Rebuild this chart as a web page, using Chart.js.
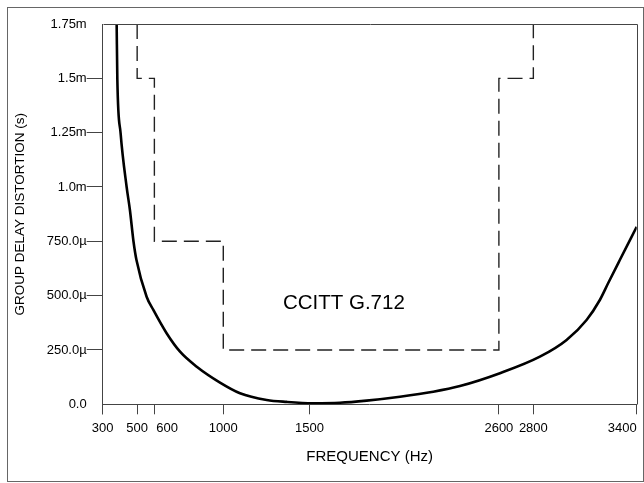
<!DOCTYPE html>
<html>
<head>
<meta charset="utf-8">
<script src="https://cdn.jsdelivr.net/npm/chart.js@4/dist/chart.umd.min.js"></script>
<style>
  html, body { margin: 0; padding: 0; background: #fff; }
  #wrap { position: relative; width: 644px; height: 483px; overflow: hidden; }
  #frame { position: absolute; left: 7px; top: 7px; width: 635px; height: 473px; border: 1px solid #666; }
  #chart { position: absolute; left: 0; top: 0; }
</style>
</head>
<body>
<div id="wrap">
  <div id="frame"></div>
  <canvas id="chart" width="644" height="483"></canvas>
</div>
<script>
// measured group delay curve (frequency in Hz, delay in ms)
const curveFreq = [381, 385, 404, 439, 458, 479, 496, 555, 594, 671, 749, 846, 981, 1097, 1252, 1368, 1520, 1677, 1832, 2026, 2219, 2374, 2606, 2838, 2993, 3109, 3186, 3234, 3302, 3400];
const curveDelay = [1.75, 1.494, 1.247, 1.0, 0.894, 0.748, 0.664, 0.495, 0.434, 0.327, 0.242, 0.173, 0.10, 0.051, 0.020, 0.011, 0.005, 0.007, 0.017, 0.035, 0.058, 0.084, 0.143, 0.219, 0.296, 0.388, 0.480, 0.557, 0.664, 0.817];

// CCITT G.712 mask
const maskFreq = [500, 500, 600, 600, 1000, 1000, 2600, 2600, 2800, 2800];
const maskDelay = [1.75, 1.5, 1.5, 0.75, 0.75, 0.25, 0.25, 1.5, 1.5, 1.75];
const maskLabel = 'CCITT G.712';
const maskLabelAt = [1700, 0.466];

// axis ticks
const freqTicks = [300, 500, 600, 1000, 1500, 2600, 2800, 3400];
const delayTicks = [0, 0.25, 0.5, 0.75, 1.0, 1.25, 1.5, 1.75];
const delayLabels = ['0.0', '250.0\u00b5', '500.0\u00b5', '750.0\u00b5', '1.0m', '1.25m', '1.5m', '1.75m'];

const FONT = '"Liberation Sans", Arial, sans-serif';
const toXY = (xs, ys) => xs.map((x, i) => ({ x, y: ys[i] }));
const px = v => Math.round(v) + 0.5;

// top/right frame lines + mask caption
const extras = {
  id: 'extras',
  afterDraw(chart) {
    const { ctx, chartArea: a, scales } = chart;
    ctx.save();
    ctx.strokeStyle = '#444';
    ctx.lineWidth = 1;
    ctx.beginPath();
    ctx.moveTo(px(a.left), px(a.top));
    ctx.lineTo(px(a.right), px(a.top));
    ctx.lineTo(px(a.right), px(a.bottom));
    ctx.stroke();
    ctx.fillStyle = '#000';
    ctx.font = '20.5px ' + FONT;
    ctx.textAlign = 'center';
    ctx.textBaseline = 'middle';
    ctx.fillText(maskLabel, scales.x.getPixelForValue(maskLabelAt[0]), scales.y.getPixelForValue(maskLabelAt[1]));
    ctx.restore();
  }
};

new Chart(document.getElementById('chart'), {
  type: 'line',
  data: {
    datasets: [
      { data: toXY(curveFreq, curveDelay), borderColor: '#000', borderWidth: 2.6, pointRadius: 0, cubicInterpolationMode: 'monotone' },
      { data: toXY(maskFreq, maskDelay), borderColor: '#222', borderWidth: 1.4, borderDash: [15, 7], pointRadius: 0, tension: 0 }
    ]
  },
  options: {
    responsive: false,
    animation: false,
    events: [],
    layout: { padding: { left: 0, top: 24, right: 7.3, bottom: 0 } },
    plugins: { legend: { display: false }, tooltip: { enabled: false } },
    scales: {
      x: {
        type: 'linear', min: 300, max: 3400,
        // leading dummy tick so that 'inner' only right-aligns the last label
        afterBuildTicks: s => { s.ticks = [300].concat(freqTicks).map(v => ({ value: v })); },
        afterFit: s => { s.height = 78.7; },
        ticks: {
          align: 'inner', autoSkip: false, maxRotation: 0, padding: 6, color: '#000',
          font: { family: FONT, size: 13 },
          callback: (v, i) => (i === 0 ? '' : v === 600 ? '       600' : String(v))
        },
        grid: { drawOnChartArea: false, tickLength: 10, color: '#444' },
        border: { color: '#444' },
        title: { display: true, text: 'FREQUENCY (Hz)', color: '#000', font: { family: FONT, size: 15 }, padding: { top: 0, bottom: 17 } }
      },
      y: {
        type: 'linear', min: 0, max: 1.75,
        afterBuildTicks: s => { s.ticks = delayTicks.map(v => ({ value: v })); },
        afterFit: s => { s.width = 102.7; },
        ticks: {
          padding: 0, color: '#000',
          font: { family: FONT, size: 13 },
          callback: (v, i) => delayLabels[i]
        },
        grid: {
          drawOnChartArea: false, tickLength: 16, color: '#444',
          tickColor: c => (c.index === 0 || c.index === delayTicks.length - 1 ? 'rgba(0,0,0,0)' : '#444')
        },
        border: { color: '#444' },
        title: { display: true, text: 'GROUP DELAY DISTORTION (s)', color: '#000', font: { family: FONT, size: 13.5 }, padding: { top: 12, bottom: 0 } }
      }
    }
  },
  plugins: [extras]
});
</script>
</body>
</html>
